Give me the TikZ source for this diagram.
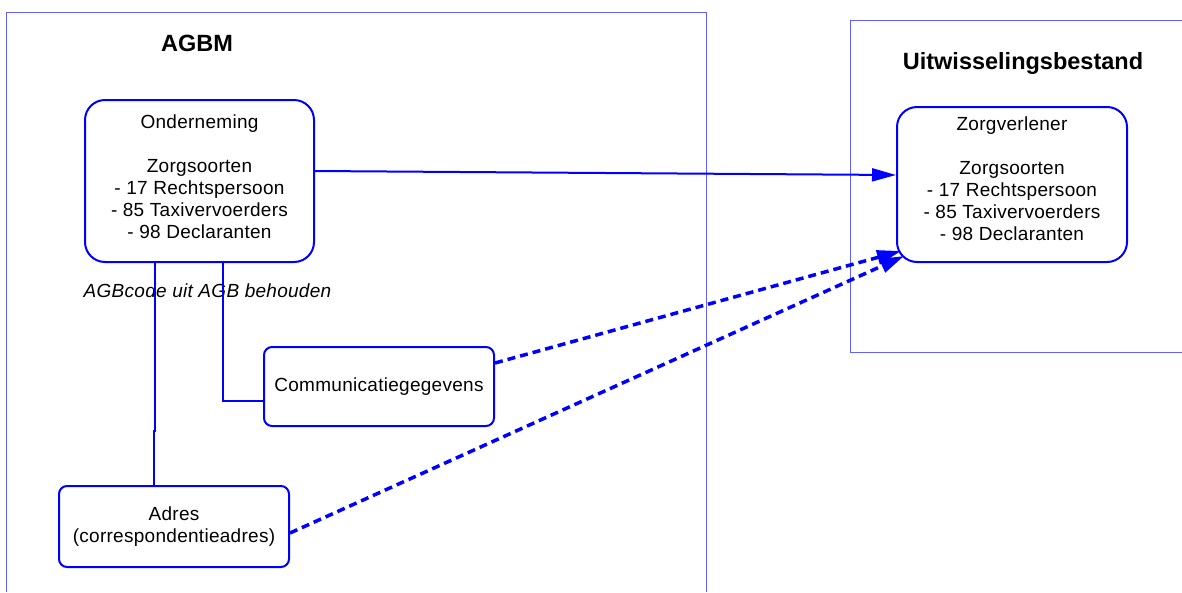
\documentclass[tikz,border=0pt]{standalone}
\usepackage{fontspec}
\setmainfont{Liberation Sans}
\newfontfamily\boxfont{Liberation Sans}[LetterSpace=1.5]
\usetikzlibrary{arrows.meta}
\definecolor{framecol}{RGB}{96,96,255}
\tikzset{
  entity/.style={draw=blue,line width=2pt,align=center,inner sep=0pt,text=black,font=\boxfont\fontsize{19}{22}\selectfont},
  frame/.style={draw=framecol,line width=1pt},
  title/.style={font=\fontsize{23.5}{26}\selectfont\bfseries},
  link/.style={draw=blue,line width=2pt},
  flow/.style={draw=blue,line width=3.5pt,dash pattern=on 8pt off 5pt,-{Triangle[length=24pt,width=14pt]}}
}
\begin{document}
\begin{tikzpicture}[x=1pt,y=-1pt]
  \useasboundingbox (0,0) rectangle (1182,592);
  \draw[frame] (6,592) -- (6,12) -- (706,12) -- (706,592);
  \draw[frame] (1182,20) -- (850,20) -- (850,352) -- (1182,352);
  \node[title] (agbm) at (197,43) {AGBM};
  \node[title] (uitw) at (1023,63) {Uitwisselingsbestand};
  \node[entity,rounded corners=20pt,minimum width=229pt,minimum height=162pt,text depth=8pt] (ond) at (199.5,181)
    {Onderneming\\[22pt]Zorgsoorten\\- 17 Rechtspersoon\\- 85 Taxivervoerders\\- 98 Declaranten};
  \node[entity,rounded corners=20pt,minimum width=230pt,minimum height=155pt,text depth=11pt] (zorg) at (1012,184.5)
    {Zorgverlener\\[22pt]Zorgsoorten\\- 17 Rechtspersoon\\- 85 Taxivervoerders\\- 98 Declaranten};
  \node[entity,rounded corners=8pt,minimum width=230pt,minimum height=79pt] (comm) at (379,386.5) {Communicatiegegevens};
  \node[entity,rounded corners=8pt,minimum width=230pt,minimum height=81pt] (adres) at (174,526.5) {Adres\\(correspondentieadres)};
  \node[font=\boxfont\fontsize{19}{22}\selectfont\itshape] (agbcode) at (207.5,291) {AGBcode uit AGB behouden};
  \draw[link] ([xshift=-44.5pt]ond.south) -- ++(0,168) -- ++(-1.5,0) -- ([xshift=-20.5pt]adres.north);
  \draw[link] ([xshift=23.5pt]ond.south) |- ([yshift=-14.5pt]comm.west);
  \draw[link,-{Triangle[length=24pt,width=13pt]}] ([yshift=10pt]ond.east) -- ([yshift=9.5pt]zorg.west);
  \draw[flow] ([yshift=23.5pt]comm.east) -- ([xshift=5pt,yshift=12pt]zorg.south west);
  \draw[flow] ([yshift=-6.5pt]adres.east) -- ([xshift=8pt,yshift=7pt]zorg.south west);
\end{tikzpicture}
\end{document}
